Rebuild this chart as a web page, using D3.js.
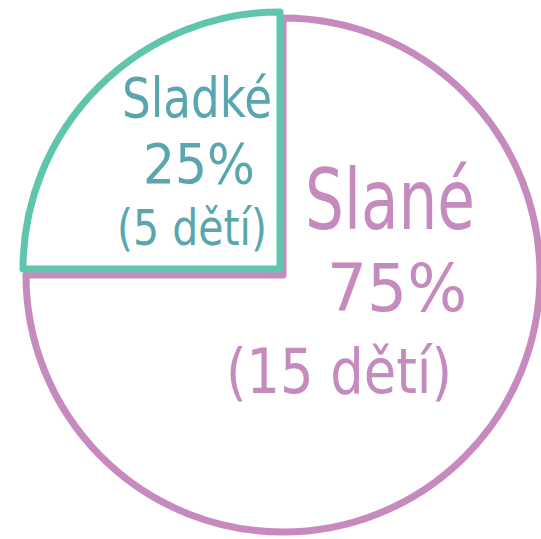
<!DOCTYPE html>
<html><head><meta charset="utf-8">
<script src="https://cdn.jsdelivr.net/npm/d3@7"></script>
<style>html,body{margin:0;padding:0;background:#fff;}svg{display:block;}</style>
</head><body>
<script>
const categories = ["Sladké", "Slané"];
const values = [5, 15];
const percentLabels = ["25%", "75%"];
const countLabels = ["(5 dětí)", "(15 dětí)"];

const W = 541, H = 539;
const colors = ["#5fc6ad", "#c78abf"];
const textColors = ["#5aa6ae", "#c68bbe"];

const svg = d3.select("body").append("svg").attr("width", W).attr("height", H);

const pie = d3.pie().sort(null).startAngle(-Math.PI / 2).endAngle(3 * Math.PI / 2);
const arcs = pie(values);
const r = 257;
const arc = d3.arc().innerRadius(0).outerRadius(r);

const centers = [[280, 269], [283, 275]];
// draw salty first, then sweet on top
[1, 0].forEach(i => {
  svg.append("path")
    .attr("transform", `translate(${centers[i][0]},${centers[i][1]})`)
    .attr("d", arc(arcs[i]))
    .attr("fill", "none")
    .attr("stroke", colors[i])
    .attr("stroke-width", 7)
    .attr("stroke-linejoin", "round");
});

const font = "'DejaVu Sans Condensed','Noto Sans',sans-serif";
const labels = [
  // sweet
  [ {t: categories[0], x: 122, y: 117, s: 56, w: 150},
    {t: percentLabels[0], x: 143, y: 183, s: 56, w: 112},
    {t: countLabels[0], x: 117, y: 245, s: 50, w: 150} ],
  // salty
  [ {t: categories[1], x: 305, y: 229, s: 84, w: 170},
    {t: percentLabels[1], x: 327, y: 311, s: 66, w: 140},
    {t: countLabels[1], x: 226, y: 393, s: 62, w: 226} ]
];
labels.forEach((group, i) => {
  group.forEach(d => {
    svg.append("text")
      .attr("x", d.x).attr("y", d.y)
      .attr("font-family", font)
      .attr("font-size", d.s)
      .attr("fill", textColors[i])
      .attr("textLength", d.w)
      .attr("lengthAdjust", "spacingAndGlyphs")
      .text(d.t);
  });
});
</script>
</body></html>
